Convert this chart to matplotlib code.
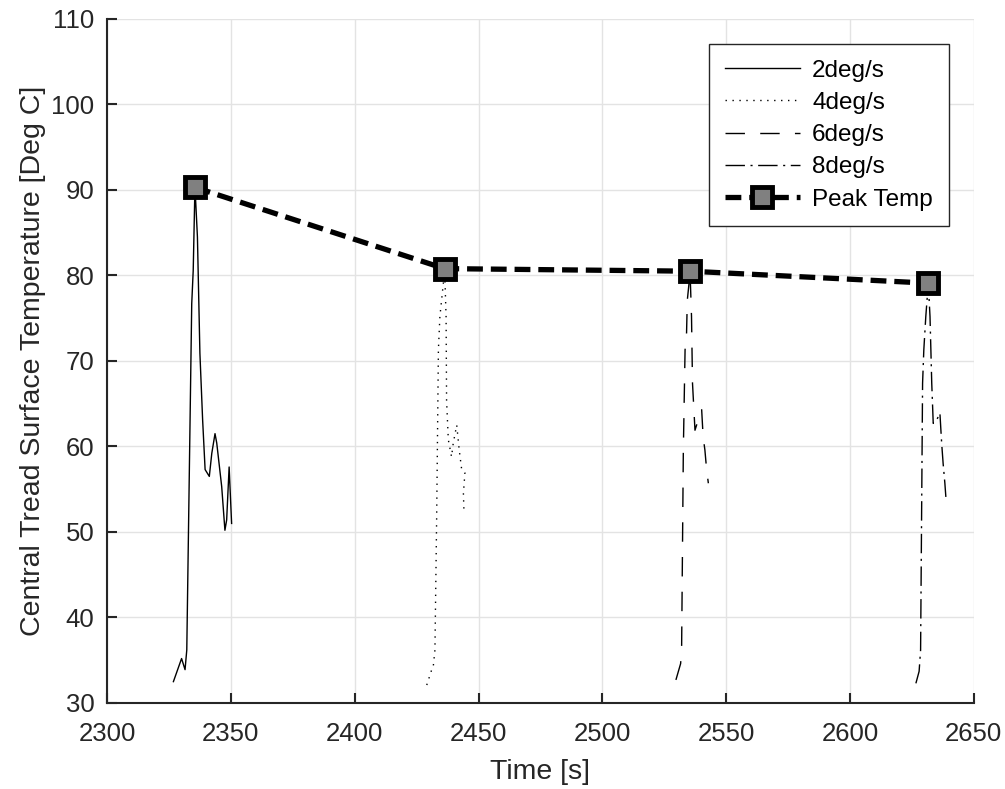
import matplotlib
matplotlib.use("Agg")
import matplotlib.pyplot as plt

# curvas de temperatura
t2 = [2326.8, 2330.1, 2331.5, 2332.2, 2334.2, 2334.8, 2335.5, 2336.5, 2337.5, 2338.6,
      2339.6, 2341.3, 2342.3, 2343.6, 2344.3, 2346.3, 2347.6, 2348.3, 2349.3, 2350.3]
T2 = [32.5, 35.2, 33.9, 36.2, 76.7, 80.6, 90.4, 84.5, 70.9, 63.1,
      57.3, 56.5, 59.2, 61.5, 60.4, 55.3, 50.2, 51.4, 57.6, 51.0]

t4 = [2429.1, 2431.1, 2431.7, 2432.4, 2433.1, 2433.8, 2434.4, 2435.8, 2436.3, 2436.9,
      2437.1, 2437.8, 2439.1, 2439.8, 2441.2, 2442.2, 2443.2, 2444.5, 2443.9, 2444.1]
T4 = [32.1, 33.9, 34.2, 36.2, 51.8, 71.3, 75.2, 79.1, 80.8, 75.2,
      65.4, 60.8, 58.8, 60.4, 62.5, 59.6, 57.3, 56.9, 54.5, 52.6]

t6 = [2529.7, 2531.6, 2532.0, 2532.7, 2533.4, 2534.0, 2534.3, 2535.0, 2535.4, 2536.0,
      2536.4, 2537.4, 2538.7, 2540.1, 2540.7, 2541.4, 2542.1, 2542.8]
T6 = [32.7, 34.6, 36.2, 59.6, 71.3, 73.3, 77.1, 79.1, 80.5, 75.2,
      67.4, 61.9, 63.1, 64.3, 61.1, 59.6, 57.3, 55.7]

t8 = [2626.6, 2627.9, 2628.5, 2628.9, 2629.3, 2629.8, 2630.6, 2631.2, 2631.6, 2632.3,
      2633.0, 2633.6, 2635.0, 2636.3, 2637.0, 2637.6, 2638.3, 2638.7]
T8 = [32.3, 33.7, 36.2, 51.8, 67.4, 71.3, 75.2, 77.5, 79.1, 75.2,
      67.4, 62.7, 63.1, 63.9, 60.4, 58.0, 55.7, 54.1]

# picos
t_pico = [2335.5, 2436.3, 2535.4, 2631.6]
T_pico = [90.3, 80.8, 80.5, 79.1]

plt.rcParams['font.family'] = ['Liberation Sans', 'DejaVu Sans']
cor = '#262626'

fig = plt.figure(figsize=(10.05, 7.89), dpi=100)
ax = fig.add_axes([0.1065, 0.109, 0.8625, 0.867])

ax.plot(t2, T2, color='k', lw=1.0, ls='-', label='2deg/s')
ax.plot(t4, T4, color='k', lw=1.0, ls=(0, (1, 4)), label='4deg/s')
ax.plot(t6, T6, color='k', lw=1.0, ls=(0, (14, 11)), label='6deg/s')
ax.plot(t8, T8, color='k', lw=1.0, ls=(0, (14, 4, 1.5, 4)), label='8deg/s')
ax.plot(t_pico, T_pico, color='k', lw=3.8, ls=(0, (3, 1.5)), marker='s',
        markersize=15, markerfacecolor='#808080', markeredgecolor='k',
        markeredgewidth=3.5, label='Peak Temp')

ax.set_xlim(2300, 2650)
ax.set_ylim(30, 110)
ax.set_xticks(range(2300, 2651, 50))
ax.set_yticks(range(30, 111, 10))
ax.grid(True, color='#e3e3e3', lw=1)
ax.set_axisbelow(True)

for s in ['top', 'right']:
    ax.spines[s].set_visible(False)
for s in ['left', 'bottom']:
    ax.spines[s].set_color(cor)
    ax.spines[s].set_linewidth(1.5)
ax.tick_params(direction='in', length=7, width=1.5, colors=cor, labelsize=18.5)
ax.tick_params(axis='x', pad=14)
ax.tick_params(axis='y', pad=9)

ax.set_xlabel('Time [s]', fontsize=20.5, color=cor, labelpad=9)
ax.set_ylabel('Central Tread Surface Temperature [Deg C]', fontsize=20.5, color=cor, labelpad=4)

leg = ax.legend(loc='upper right', bbox_to_anchor=(0.971, 0.9635), borderaxespad=0,
                fontsize=17.5, fancybox=False, framealpha=1, edgecolor=cor,
                handlelength=3.1, handletextpad=0.5, borderpad=0.65, labelspacing=0.42)
leg.get_frame().set_linewidth(1.0)

fig.savefig('out.png', dpi=100)
